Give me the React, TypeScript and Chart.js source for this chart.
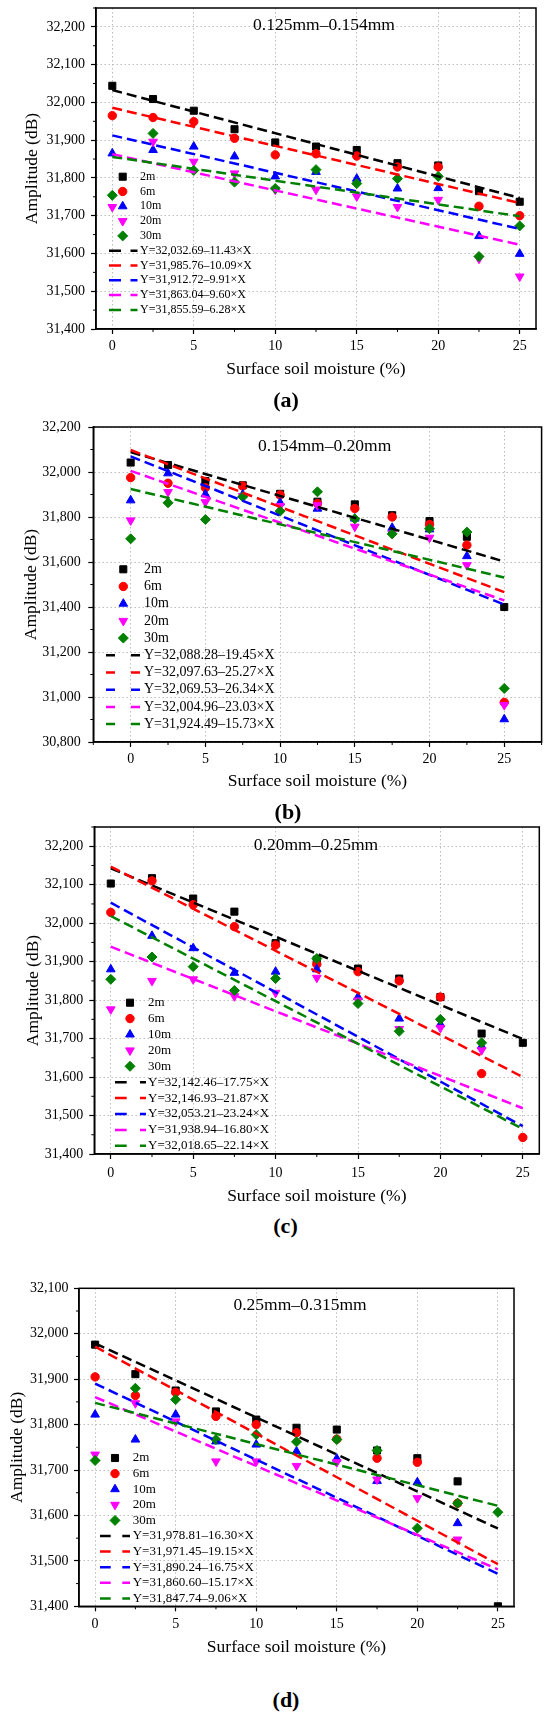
import React, { useEffect, useRef } from "react";
import { Chart, registerables } from "chart.js";

Chart.register(...registerables);

const FONT = "'Liberation Serif', 'Times New Roman', serif";
Chart.defaults.font.family = FONT;
Chart.defaults.color = "#000";

// ---------- shared data ----------
const moisture = [0, 2.5, 5, 7.5, 10, 12.5, 15, 17.5, 20, 22.5, 25];
const seriesNames = ["2m", "6m", "10m", "20m", "30m"];
const xTickValues = [0, 5, 10, 15, 20, 25];
const fitRange = [0, 25];
const xAxisTitle = "Surface soil moisture (%)";
const yAxisTitle = "Amplitude (dB)";

// ---------- panel (a) ----------
const aTitle = "0.125mm–0.154mm";
const a2m = [32044, 32009, 31978, 31929, 31894, 31883, 31874, 31839, 31833, 31765, 31737];
const a6m = [31965, 31960, 31949, 31905, 31861, 31864, 31858, 31829, 31829, 31725, 31700];
const a10m = [31865, 31874, 31883, 31857, 31804, 31816, 31798, 31772, 31773, 31646, 31599];
const a20m = [31723, 31896, 31843, 31812, 31769, 31769, 31751, 31723, 31742, 31586, 31539];
const a30m = [31754, 31918, 31820, 31789, 31772, 31822, 31785, 31798, 31804, 31592, 31673];
const aIntercepts = [32032.69, 31985.76, 31912.72, 31863.04, 31855.59];
const aSlopes = [11.43, 10.09, 9.91, 9.6, 6.28];
const aFitLabels = [
  "Y=32,032.69–11.43×X",
  "Y=31,985.76–10.09×X",
  "Y=31,912.72–9.91×X",
  "Y=31,863.04–9.60×X",
  "Y=31,855.59–6.28×X",
];
const aYTicks = [31400, 31500, 31600, 31700, 31800, 31900, 32000, 32100, 32200];

// ---------- panel (b) ----------
const bTitle = "0.154mm–0.20mm";
const b2m = [32042, 32031, 31960, 31941, 31903, 31868, 31856, 31808, 31782, 31712, 31400];
const b6m = [31975, 31950, 31930, 31938, 31898, 31860, 31838, 31800, 31767, 31675, 30976];
const b10m = [31874, 31994, 31901, 31900, 31864, 31837, 31793, 31752, 31745, 31626, 30901];
const b20m = [31785, 31911, 31866, 31893, 31849, 31852, 31757, 31727, 31708, 31586, 30964];
const b30m = [31703, 31863, 31789, 31890, 31826, 31912, 31792, 31725, 31748, 31733, 31038];
const bIntercepts = [32088.28, 32097.63, 32069.53, 32004.96, 31924.49];
const bSlopes = [19.45, 25.27, 26.34, 23.03, 15.73];
const bFitLabels = [
  "Y=32,088.28–19.45×X",
  "Y=32,097.63–25.27×X",
  "Y=32,069.53–26.34×X",
  "Y=32,004.96–23.03×X",
  "Y=31,924.49–15.73×X",
];
const bYTicks = [30800, 31000, 31200, 31400, 31600, 31800, 32000, 32200];

// ---------- panel (c) ----------
const cTitle = "0.20mm–0.25mm";
const c2m = [32103, 32117, 32064, 32030, 31948, 31905, 31882, 31856, 31808, 31713, 31689];
const c6m = [32028, 32110, 32048, 31991, 31943, 31893, 31874, 31850, 31808, 31609, 31443];
const c10m = [31880, 31967, 31935, 31871, 31874, 31880, 31808, 31752, 31737, 31680, null];
const c20m = [31776, 31850, 31854, 31810, 31819, 31858, 31799, 31725, 31728, 31670, null];
const c30m = [31854, 31912, 31887, 31825, 31856, 31908, 31791, 31719, 31750, 31689, null];
const cIntercepts = [32142.46, 32146.93, 32053.21, 31938.94, 32018.65];
const cSlopes = [17.75, 21.87, 23.24, 16.8, 22.14];
const cFitLabels = [
  "Y=32,142.46–17.75×X",
  "Y=32,146.93–21.87×X",
  "Y=32,053.21–23.24×X",
  "Y=31,938.94–16.80×X",
  "Y=32,018.65–22.14×X",
];
const cYTicks = [31400, 31500, 31600, 31700, 31800, 31900, 32000, 32100, 32200];

// ---------- panel (d) ----------
const dTitle = "0.25mm–0.315mm";
const d2m = [31976, 31911, 31875, 31829, 31811, 31793, 31789, 31743, 31726, 31675, 31400];
const d6m = [31905, 31864, 31871, 31818, 31800, 31782, 31768, 31726, 31717, 31627, null];
const d10m = [31822, 31767, 31822, 31763, 31756, 31741, 31725, 31676, 31673, 31583, null];
const d20m = [31734, 31847, 31807, 31719, 31719, 31709, 31717, 31679, 31638, 31547, null];
const d30m = [31721, 31880, 31855, 31767, 31778, 31762, 31767, 31743, 31572, 31627, 31607];
const dIntercepts = [31978.81, 31971.45, 31890.24, 31860.6, 31847.74];
const dSlopes = [16.3, 19.15, 16.75, 15.17, 9.06];
const dFitLabels = [
  "Y=31,978.81–16.30×X",
  "Y=31,971.45–19.15×X",
  "Y=31,890.24–16.75×X",
  "Y=31,860.60–15.17×X",
  "Y=31,847.74–9.06×X",
];
const dYTicks = [31400, 31500, 31600, 31700, 31800, 31900, 32000, 32100];

// ---------- styles ----------
const seriesStyles = [
  { color: "#000000", shape: "rect", radius: 5, rotation: 0 },
  { color: "#ff0000", shape: "circle", radius: 4.2, rotation: 0 },
  { color: "#0000ff", shape: "triangle", radius: 5, rotation: 0 },
  { color: "#ff00ff", shape: "triangle", radius: 5, rotation: 180 },
  { color: "#008000", shape: "rectRot", radius: 5, rotation: 0 },
];
const GRID_COLOR = "#bdbdbd";

type Legend = {
  markerX: number; textX: number; lineX1: number; lineX2: number;
  seg1: number; seg2: number; y0: number; dy: number; fontSize: number;
};
type PanelSpec = {
  canvasTop: number; canvasHeight: number;
  area: { left: number; right: number; top: number; bottom: number };
  xMin: number; xMax: number; yMin: number; yMax: number;
  yTicks: number[]; yMinorStep: number; xMinorStep: number;
  series: (number | null)[][];
  intercepts: number[]; slopes: number[]; fitLabels: string[];
  title: string; titleX: number; titleY: number;
  legend: Legend;
  xTickPad: number; yTickPad: number; xTitlePad: number; yTitlePad: number;
};

function drawMarker(ctx: CanvasRenderingContext2D, shape: string, x: number, y: number, r: number, rot: number, color: string) {
  ctx.save();
  ctx.fillStyle = color;
  ctx.strokeStyle = color;
  ctx.lineWidth = 1;
  ctx.setLineDash([]);
  ctx.beginPath();
  if (shape === "circle") {
    ctx.arc(x, y, r, 0, Math.PI * 2);
  } else if (shape === "rect") {
    const s = r * Math.SQRT1_2;
    ctx.rect(x - s, y - s, 2 * s, 2 * s);
  } else if (shape === "rectRot") {
    ctx.moveTo(x - r, y);
    ctx.lineTo(x, y - r);
    ctx.lineTo(x + r, y);
    ctx.lineTo(x, y + r);
    ctx.closePath();
  } else {
    const dir = rot === 180 ? -1 : 1;
    ctx.moveTo(x, y - dir * r);
    ctx.lineTo(x + 0.866 * r, y + dir * 0.5 * r);
    ctx.lineTo(x - 0.866 * r, y + dir * 0.5 * r);
    ctx.closePath();
  }
  ctx.fill();
  ctx.stroke();
  ctx.restore();
}

function Panel({ spec }: { spec: PanelSpec }) {
  const ref = useRef<HTMLCanvasElement | null>(null);
  useEffect(() => {
    if (!ref.current) return;
    const s = spec;
    const ct = s.canvasTop;
    const xAxisH = s.canvasHeight - (s.area.bottom - ct);

    const scatterSets = s.series.map((arr, i) => {
      const st = seriesStyles[i];
      return {
        label: seriesNames[i],
        data: moisture
          .map((x, j) => ({ x, y: arr[j] }))
          .filter((p) => p.y !== null && p.y !== undefined),
        showLine: false,
        pointStyle: st.shape,
        pointRadius: st.radius,
        pointRotation: st.rotation,
        pointBackgroundColor: st.color,
        pointBorderColor: st.color,
        pointBorderWidth: 1,
        backgroundColor: st.color,
        borderColor: st.color,
        clip: 0,
        order: 20 - i,
      };
    });
    const fitSets = s.intercepts.map((a, i) => ({
      label: s.fitLabels[i],
      data: fitRange.map((x) => ({ x, y: a - s.slopes[i] * x })),
      showLine: true,
      pointRadius: 0,
      borderColor: seriesStyles[i].color,
      backgroundColor: seriesStyles[i].color,
      borderWidth: 2.5,
      borderDash: [10, 5],
      fill: false,
      order: 10 - i,
    }));

    const decor = {
      id: "decor",
      afterDatasetsDraw(chart: any) {
        const ctx: CanvasRenderingContext2D = chart.ctx;
        const ca = chart.chartArea;
        const xs = chart.scales.x;
        const ys = chart.scales.y;
        ctx.save();
        ctx.strokeStyle = "#000";
        ctx.lineWidth = 1.5;
        ctx.setLineDash([]);
        ctx.strokeRect(ca.left, ca.top, ca.right - ca.left, ca.bottom - ca.top);
        ctx.lineWidth = 1;
        ctx.beginPath();
        for (let v = Math.ceil(s.xMin / s.xMinorStep) * s.xMinorStep; v <= s.xMax + 1e-9; v += s.xMinorStep) {
          if (xTickValues.indexOf(v) >= 0) continue;
          const px = xs.getPixelForValue(v);
          ctx.moveTo(px, ca.bottom);
          ctx.lineTo(px, ca.bottom + 3);
        }
        for (let v = Math.ceil(s.yMin / s.yMinorStep) * s.yMinorStep; v <= s.yMax + 1e-9; v += s.yMinorStep) {
          if (s.yTicks.indexOf(v) >= 0) continue;
          const py = ys.getPixelForValue(v);
          ctx.moveTo(ca.left - 3, py);
          ctx.lineTo(ca.left, py);
        }
        ctx.stroke();
        ctx.fillStyle = "#000";
        ctx.font = `17.5px ${FONT}`;
        ctx.textAlign = "center";
        ctx.textBaseline = "middle";
        ctx.fillText(s.title, s.titleX, s.titleY - ct);
        const L = s.legend;
        ctx.font = `${L.fontSize}px ${FONT}`;
        ctx.textAlign = "left";
        for (let i = 0; i < 5; i++) {
          const y = L.y0 + L.dy * i - ct;
          const st = seriesStyles[i];
          drawMarker(ctx, st.shape, L.markerX, y, st.radius, st.rotation, st.color);
          ctx.fillStyle = "#000";
          ctx.fillText(seriesNames[i], L.textX, y);
        }
        for (let i = 0; i < 5; i++) {
          const y = L.y0 + L.dy * (i + 5) - ct;
          const st = seriesStyles[i];
          ctx.strokeStyle = st.color;
          ctx.lineWidth = 2.5;
          ctx.setLineDash([]);
          ctx.beginPath();
          ctx.moveTo(L.lineX1, y);
          ctx.lineTo(L.lineX1 + L.seg1, y);
          ctx.moveTo(L.lineX2 - L.seg2, y);
          ctx.lineTo(L.lineX2, y);
          ctx.stroke();
          ctx.fillStyle = "#000";
          ctx.fillText(s.fitLabels[i], L.textX, y);
        }
        ctx.restore();
      },
    };

    const tickFont = { family: FONT, size: 14, lineHeight: 1.2 };
    const titleFont = { family: FONT, size: 17.5, lineHeight: 1.2 };

    const chart = new Chart(ref.current, {
      type: "scatter",
      data: { datasets: [...scatterSets, ...fitSets] as any },
      options: {
        responsive: false,
        animation: false,
        events: [],
        layout: {
          padding: { left: 0, top: s.area.top - ct, right: 550 - s.area.right, bottom: 0 },
          autoPadding: false,
        } as any,
        plugins: { legend: { display: false }, tooltip: { enabled: false }, title: { display: false } },
        scales: {
          x: {
            type: "linear",
            position: "bottom",
            min: s.xMin,
            max: s.xMax,
            afterBuildTicks: (sc: any) => {
              sc.ticks = xTickValues.map((v) => ({ value: v }));
            },
            afterFit: (sc: any) => {
              sc.height = xAxisH;
              sc.paddingLeft = 0;
              sc.paddingRight = 0;
            },
            ticks: {
              color: "#000",
              font: tickFont,
              padding: s.xTickPad,
              maxRotation: 0,
              autoSkip: false,
              callback: (v: any) => String(v),
            },
            grid: {
              color: GRID_COLOR,
              lineWidth: 1,
              drawTicks: true,
              tickLength: 5,
              tickColor: "#000",
              tickWidth: 1.2,
              tickBorderDash: [],
            },
            border: { display: true, color: "#000", width: 1.5, dash: [1.5, 2.5] },
            title: {
              display: true,
              text: xAxisTitle,
              color: "#000",
              font: titleFont,
              padding: { top: 0, bottom: s.xTitlePad },
            },
          } as any,
          y: {
            type: "linear",
            position: "left",
            min: s.yMin,
            max: s.yMax,
            afterBuildTicks: (sc: any) => {
              sc.ticks = s.yTicks.map((v) => ({ value: v }));
            },
            afterFit: (sc: any) => {
              sc.width = s.area.left;
              sc.paddingTop = 0;
              sc.paddingBottom = 0;
            },
            ticks: {
              color: "#000",
              font: tickFont,
              padding: s.yTickPad,
              autoSkip: false,
              callback: (v: any) => Number(v).toLocaleString("en-US"),
            },
            grid: {
              color: GRID_COLOR,
              lineWidth: 1,
              drawTicks: true,
              tickLength: 5,
              tickColor: "#000",
              tickWidth: 1.2,
              tickBorderDash: [],
            },
            border: { display: true, color: "#000", width: 1.5, dash: [1.5, 2.5] },
            title: {
              display: true,
              text: yAxisTitle,
              color: "#000",
              font: titleFont,
              padding: { top: s.yTitlePad, bottom: 0 },
            },
          } as any,
        },
      },
      plugins: [decor as any],
    });
    return () => chart.destroy();
  }, [spec]);

  return (
    <canvas
      ref={ref}
      width={550}
      height={spec.canvasHeight}
      style={{ position: "absolute", left: 0, top: spec.canvasTop, width: 550, height: spec.canvasHeight }}
    />
  );
}

const panels: PanelSpec[] = [
  {
    canvasTop: 0, canvasHeight: 390,
    area: { left: 96, right: 536, top: 8, bottom: 329 },
    xMin: -1, xMax: 26, yMin: 31400, yMax: 32250,
    yTicks: aYTicks, yMinorStep: 50, xMinorStep: 2.5,
    series: [a2m, a6m, a10m, a20m, a30m],
    intercepts: aIntercepts, slopes: aSlopes, fitLabels: aFitLabels,
    title: aTitle, titleX: 324, titleY: 25,
    legend: { markerX: 122.7, textX: 140, lineX1: 109, lineX2: 137.5, seg1: 12, seg2: 7, y0: 176.7, dy: 14.8, fontSize: 12 },
    xTickPad: 4.3, yTickPad: 6, xTitlePad: 10.5, yTitlePad: 22,
  },
  {
    canvasTop: 415, canvasHeight: 390,
    area: { left: 93.3, right: 541.6, top: 427, bottom: 742 },
    xMin: -2.5, xMax: 27.5, yMin: 30800, yMax: 32200,
    yTicks: bYTicks, yMinorStep: 100, xMinorStep: 2.5,
    series: [b2m, b6m, b10m, b20m, b30m],
    intercepts: bIntercepts, slopes: bSlopes, fitLabels: bFitLabels,
    title: bTitle, titleX: 324.7, titleY: 446,
    legend: { markerX: 123.3, textX: 144, lineX1: 106, lineX2: 140, seg1: 9, seg2: 9, y0: 569.3, dy: 17.2, fontSize: 14 },
    xTickPad: 3.9, yTickPad: 7.6, xTitlePad: 12.8, yTitlePad: 21.2,
  },
  {
    canvasTop: 815, canvasHeight: 395,
    area: { left: 94.3, right: 539.3, top: 827, bottom: 1154 },
    xMin: -1, xMax: 26, yMin: 31400, yMax: 32250,
    yTicks: cYTicks, yMinorStep: 50, xMinorStep: 2.5,
    series: [c2m, c6m, c10m, c20m, c30m],
    intercepts: cIntercepts, slopes: cSlopes, fitLabels: cFitLabels,
    title: cTitle, titleX: 316, titleY: 845,
    legend: { markerX: 130, textX: 148, lineX1: 115, lineX2: 146, seg1: 11.7, seg2: 6, y0: 1002.7, dy: 15.9, fontSize: 13 },
    xTickPad: 5.6, yTickPad: 6, xTitlePad: 3.5, yTitlePad: 22.5,
  },
  {
    canvasTop: 1275, canvasHeight: 390,
    area: { left: 79, right: 514, top: 1288.3, bottom: 1606.3 },
    xMin: -1, xMax: 26, yMin: 31400, yMax: 32100,
    yTicks: dYTicks, yMinorStep: 50, xMinorStep: 2.5,
    series: [d2m, d6m, d10m, d20m, d30m],
    intercepts: dIntercepts, slopes: dSlopes, fitLabels: dFitLabels,
    title: dTitle, titleX: 300, titleY: 1305,
    legend: { markerX: 115, textX: 132.7, lineX1: 100, lineX2: 130, seg1: 10.7, seg2: 7.7, y0: 1458, dy: 15.6, fontSize: 13 },
    xTickPad: 4.3, yTickPad: 5.4, xTitlePad: 7.5, yTitlePad: 7,
  },
];

const captions = [
  { text: "(a)", x: 286, y: 400 },
  { text: "(b)", x: 288, y: 811.7 },
  { text: "(c)", x: 285.5, y: 1226 },
  { text: "(d)", x: 286, y: 1700 },
];

export default function App() {
  return (
    <div style={{ position: "absolute", left: 0, top: 0, width: 550, height: 1719, background: "#fff", overflow: "hidden" }}>
      {panels.map((p, i) => (
        <Panel key={i} spec={p} />
      ))}
      {captions.map((c) => (
        <div
          key={c.text}
          style={{
            position: "absolute",
            left: c.x,
            top: c.y - 14,
            transform: "translateX(-50%)",
            font: `bold 22px ${FONT}`,
            lineHeight: "28px",
            color: "#000",
            whiteSpace: "nowrap",
          }}
        >
          {c.text}
        </div>
      ))}
    </div>
  );
}
